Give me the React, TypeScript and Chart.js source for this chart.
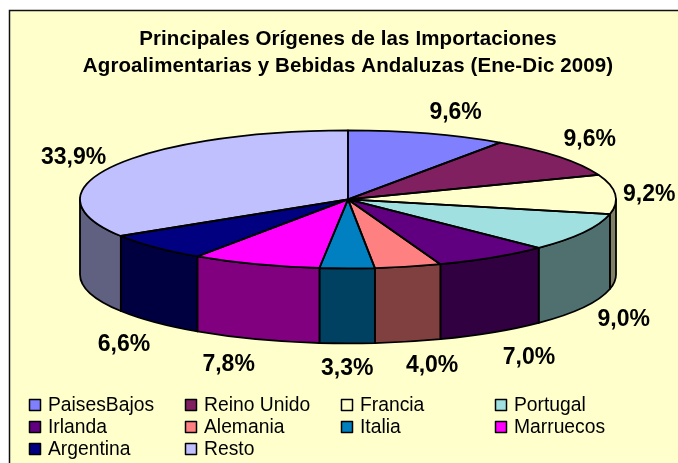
import React, { useEffect, useRef } from "react";
import { Chart, registerables } from "chart.js";

Chart.register(...registerables);

const titleLines = [
  "Principales Orígenes de las Importaciones",
  "Agroalimentarias y Bebidas Andaluzas (Ene-Dic 2009)",
];
const categories = ["PaisesBajos", "Reino Unido", "Francia", "Portugal", "Irlanda", "Alemania", "Italia", "Marruecos", "Argentina", "Resto"];
const shares = [9.6, 9.6, 9.2, 9.0, 7.0, 4.0, 3.3, 7.8, 6.6, 33.9];
const topColors = ["#8080FF", "#802060", "#FFFFCC", "#A0E0E0", "#600080", "#FF8080", "#0080C0", "#FF00FF", "#000080", "#C0C0FF"];
const wallColors = ["#404080", "#401030", "#808066", "#507070", "#300040", "#804040", "#004060", "#800080", "#000040", "#606080"];
const labelOffsets = [[28, -21], [31, -17], [34, 0], [40, 12], [36, 25], [24, 24], [0, 25], [-27, 25], [-31, 22], [-40, -8]];

const FONT = '"Liberation Sans", Arial, sans-serif';
const SQUASH = 69 / 268;
const DEPTH = 75;
const RADIUS = 268;
const LEGEND_COLS = [29, 185, 341, 495];
const LEGEND_ROWS = [405, 427, 449];

const pie3d = {
  id: "pie3d",
  beforeDraw(chart: any) {
    const { ctx, width, height } = chart;
    ctx.save();
    ctx.fillStyle = "#FFFFFF";
    ctx.fillRect(0, 0, width, height);
    ctx.fillStyle = "#FFFFCC";
    ctx.fillRect(9, 10, width - 9, height - 10);
    ctx.strokeStyle = "#111111";
    ctx.lineWidth = 1.5;
    ctx.beginPath();
    ctx.moveTo(9.5, height);
    ctx.lineTo(9.5, 10.5);
    ctx.lineTo(width, 10.5);
    ctx.stroke();
    ctx.restore();
    ctx.letterSpacing = "0.1px";
  },
  beforeDatasetsDraw(chart: any) {
    const { ctx } = chart;
    ctx.letterSpacing = "0px";
    const arcs = chart.getDatasetMeta(0).data;
    ctx.save();
    ctx.lineWidth = 1.8;
    ctx.strokeStyle = "#000000";
    ctx.lineJoin = "round";
    const TAU = Math.PI * 2;
    arcs.forEach((arc: any, i: number) => {
      const { x, y, startAngle, endAngle, outerRadius } = arc.getProps(["x", "y", "startAngle", "endAngle", "outerRadius"], true);
      const ry = outerRadius * SQUASH;
      for (const shift of [0, TAU, -TAU]) {
        const a = Math.max(startAngle + shift, 0);
        const b = Math.min(endAngle + shift, Math.PI);
        if (b <= a) continue;
        ctx.beginPath();
        ctx.ellipse(x, y, outerRadius, ry, 0, a, b);
        ctx.ellipse(x, y + DEPTH, outerRadius, ry, 0, b, a, true);
        ctx.closePath();
        ctx.fillStyle = wallColors[i];
        ctx.fill();
        ctx.stroke();
      }
    });
    ctx.restore();
    const first = arcs[0];
    ctx.save();
    ctx.translate(first.x, first.y);
    ctx.scale(1, SQUASH);
    ctx.translate(-first.x, -first.y);
  },
  afterDatasetsDraw(chart: any) {
    const { ctx } = chart;
    ctx.restore();
    const arcs = chart.getDatasetMeta(0).data;
    ctx.save();
    ctx.lineWidth = 1.8;
    ctx.strokeStyle = "#000000";
    ctx.lineJoin = "round";
    arcs.forEach((arc: any) => {
      const { x, y, startAngle, endAngle, outerRadius } = arc.getProps(["x", "y", "startAngle", "endAngle", "outerRadius"], true);
      ctx.beginPath();
      ctx.moveTo(x, y);
      ctx.ellipse(x, y, outerRadius, outerRadius * SQUASH, 0, startAngle, endAngle);
      ctx.closePath();
      ctx.stroke();
    });
    ctx.fillStyle = "#000000";
    ctx.font = `bold 23px ${FONT}`;
    ctx.textAlign = "center";
    ctx.textBaseline = "middle";
    arcs.forEach((arc: any, i: number) => {
      const { x, y, startAngle, endAngle, outerRadius } = arc.getProps(["x", "y", "startAngle", "endAngle", "outerRadius"], true);
      const mid = (startAngle + endAngle) / 2;
      const px = x + outerRadius * Math.cos(mid);
      const py = y + outerRadius * SQUASH * Math.sin(mid) + (Math.sin(mid) > 0 ? DEPTH : 0);
      const text = chart.data.datasets[0].data[i].toFixed(1).replace(".", ",") + "%";
      ctx.fillText(text, px + labelOffsets[i][0], py + labelOffsets[i][1]);
    });
    ctx.font = `19.3px ${FONT}`;
    ctx.textAlign = "left";
    chart.data.labels.forEach((name: string, i: number) => {
      const lx = LEGEND_COLS[i % 4];
      const ly = LEGEND_ROWS[Math.floor(i / 4)];
      ctx.fillStyle = topColors[i];
      ctx.fillRect(lx + 0.5, ly - 5.5, 11, 11);
      ctx.lineWidth = 1.5;
      ctx.strokeRect(lx + 0.5, ly - 5.5, 11, 11);
      ctx.fillStyle = "#000000";
      ctx.fillText(name, lx + 19, ly + 0.5);
    });
    ctx.restore();
  },
};

export default function App() {
  const ref = useRef<HTMLCanvasElement>(null);
  useEffect(() => {
    document.body.style.margin = "0";
    const chart = new Chart(ref.current!, {
      type: "pie",
      data: {
        labels: categories,
        datasets: [{ data: shares, backgroundColor: topColors, borderWidth: 0, radius: RADIUS, clip: false } as any],
      },
      options: {
        responsive: false,
        animation: false,
        layout: { padding: { left: 18, right: 0, top: 0, bottom: 143.5 } },
        plugins: {
          legend: { display: false },
          tooltip: { enabled: false },
          title: {
            display: true,
            text: titleLines,
            color: "#000000",
            font: { family: FONT, size: 20.5, weight: "bold", lineHeight: 1.3 },
            padding: { top: 26, bottom: 0 },
          },
        },
      },
      plugins: [pie3d],
    } as any);
    return () => chart.destroy();
  }, []);
  return <canvas ref={ref} width={678} height={463} style={{ display: "block", width: 678, height: 463 }} />;
}
